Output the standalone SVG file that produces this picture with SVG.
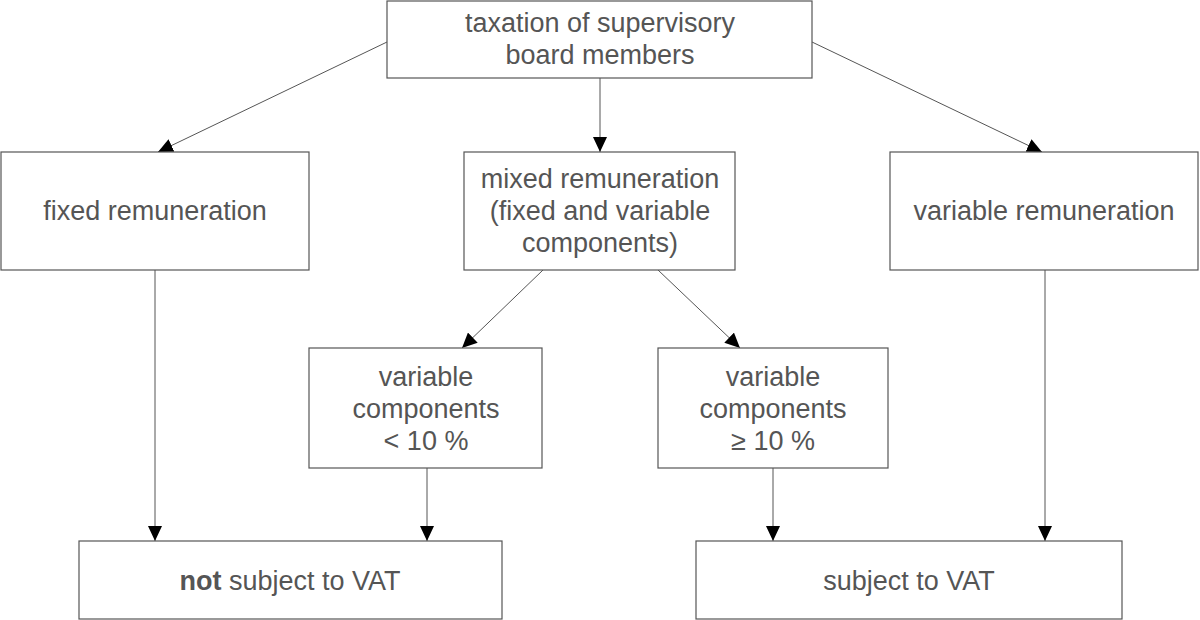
<svg xmlns="http://www.w3.org/2000/svg" width="1200" height="620" viewBox="0 0 1200 620">
<style>
.box{fill:#fff;stroke:#555;stroke-width:1.2}
.t{font-family:"Liberation Sans",Arial,sans-serif;font-size:27px;fill:#555;text-anchor:middle}
.c{stroke:#555;stroke-width:1;fill:none;marker-end:url(#ah)}
</style>
<defs>
<marker id="ah" viewBox="0 0 15 14" refX="15" refY="7" markerWidth="15" markerHeight="14" markerUnits="userSpaceOnUse" orient="auto">
<path d="M0,0 L15,7 L0,14 Z" fill="#000"/>
</marker>
</defs>
<rect width="1200" height="620" fill="#fff"/>
<g id="connectors">
<line class="c" x1="600" y1="78" x2="600" y2="152"/>
<line class="c" x1="387" y1="42" x2="158" y2="152"/>
<line class="c" x1="812" y1="42" x2="1042" y2="152"/>
<line class="c" x1="543" y1="270" x2="462" y2="348"/>
<line class="c" x1="658" y1="270" x2="740" y2="348"/>
<line class="c" x1="155" y1="270" x2="155" y2="541"/>
<line class="c" x1="427" y1="468" x2="427" y2="541"/>
<line class="c" x1="773" y1="468" x2="773" y2="541"/>
<line class="c" x1="1045" y1="270" x2="1045" y2="541"/>
</g>
<g id="top">
<rect class="box" x="387" y="1" width="425" height="77"/>
<text class="t" x="600" y="32">taxation of supervisory</text>
<text class="t" x="600" y="64">board members</text>
</g>
<g id="fixed">
<rect class="box" x="1" y="152" width="308" height="118"/>
<text class="t" x="155" y="220">fixed remuneration</text>
</g>
<g id="mixed">
<rect class="box" x="464" y="152" width="271" height="118"/>
<text class="t" x="600" y="188">mixed remuneration</text>
<text class="t" x="600" y="220">(fixed and variable</text>
<text class="t" x="600" y="252">components)</text>
</g>
<g id="variable">
<rect class="box" x="890" y="152" width="308" height="118"/>
<text class="t" x="1044" y="220">variable remuneration</text>
</g>
<g id="lt10">
<rect class="box" x="309" y="348" width="233" height="120"/>
<text class="t" x="426" y="386">variable</text>
<text class="t" x="426" y="418">components</text>
<text class="t" x="426" y="450">&lt; 10 %</text>
</g>
<g id="ge10">
<rect class="box" x="658" y="348" width="230" height="120"/>
<text class="t" x="773" y="386">variable</text>
<text class="t" x="773" y="418">components</text>
<text class="t" x="773" y="450">≥ 10 %</text>
</g>
<g id="notvat">
<rect class="box" x="79" y="541" width="423" height="78"/>
<text class="t" x="290" y="590"><tspan font-weight="bold">not</tspan> subject to VAT</text>
</g>
<g id="vat">
<rect class="box" x="696" y="541" width="426" height="78"/>
<text class="t" x="909" y="590">subject to VAT</text>
</g>
</svg>
